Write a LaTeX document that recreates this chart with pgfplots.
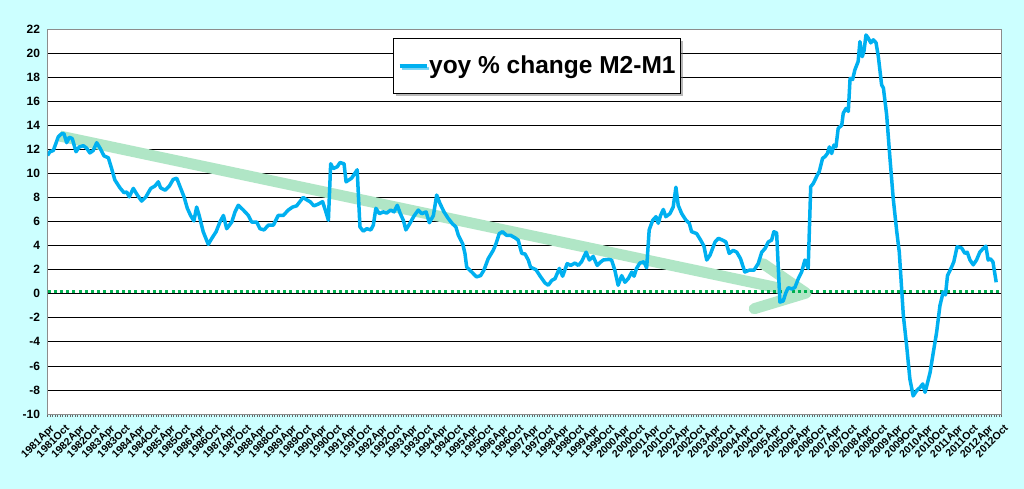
\documentclass[border=0pt]{standalone}
\usepackage{fontspec}
\setmainfont{Liberation Sans}
\usepackage{pgfplots}
\pgfplotsset{compat=1.18}
\usetikzlibrary{shadows}
\definecolor{bgcol}{RGB}{204,255,255}
\definecolor{linecol}{RGB}{0,176,240}
\definecolor{zerocol}{RGB}{0,176,80}
\definecolor{arrowcol}{RGB}{176,230,198}
\begin{document}
\begin{tikzpicture}
\useasboundingbox (0,0) rectangle (1024bp,489bp);
\fill[bgcol] (0,0) rectangle (1024bp,489bp);
\begin{axis}[
  at={(47.5bp,75bp)}, anchor=south west,
  scale only axis, width=954bp, height=385bp,
  xmin=0, xmax=378, ymin=-10, ymax=22,
  axis background/.style={fill=white},
  axis line style={draw=black!45, line width=0.8bp},
  ytick={-10,-8,...,22},
  ymajorgrids, grid style={black, line width=0.7bp},
  ytick style={draw=none},
  xtick={0,6,...,378},
  xticklabels={1981Apr,1981Oct,1982Apr,1982Oct,1983Apr,1983Oct,1984Apr,1984Oct,1985Apr,1985Oct,1986Apr,1986Oct,1987Apr,1987Oct,1988Apr,1988Oct,1989Apr,1989Oct,1990Apr,1990Oct,1991Apr,1991Oct,1992Apr,1992Oct,1993Apr,1993Oct,1994Apr,1994Oct,1995Apr,1995Oct,1996Apr,1996Oct,1997Apr,1997Oct,1998Apr,1998Oct,1999Apr,1999Oct,2000Apr,2000Oct,2001Apr,2001Oct,2002Apr,2002Oct,2003Apr,2003Oct,2004Apr,2004Oct,2005Apr,2005Oct,2006Apr,2006Oct,2007Apr,2007Oct,2008Apr,2008Oct,2009Apr,2009Oct,2010Apr,2010Oct,2011Apr,2011Oct,2012Apr,2012Oct},
  minor x tick num=5,
  xtick pos=lower, tick align=outside,
  major tick length=3bp, minor tick length=3bp,
  xtick style={draw=black!60, line width=0.6bp},
  minor x tick style={draw=black!60, line width=0.6bp},
  /pgf/number format/assume math mode=true,
  yticklabel style={font=\bfseries\fontsize{12bp}{14bp}\selectfont, xshift=-1bp},
  xticklabel style={font=\bfseries\fontsize{10.5bp}{12bp}\selectfont, yshift=-6bp, xshift=2bp, rotate=45, anchor=north east, inner sep=0.5bp},
  legend style={at={(0.362,0.977)}, anchor=north west, draw=black, fill=white, line width=0.6bp,
    font=\bfseries\fontsize{24.5bp}{28bp}\selectfont,
    inner xsep=4.5bp, inner ysep=15bp,
    nodes={inner xsep=0.5bp, inner ysep=3bp},
    drop shadow={shadow xshift=2.5bp, shadow yshift=-2.5bp, fill=black!55}},
  legend cell align=left,
  legend image code/.code={\draw[#1, line width=4bp] (0bp,0bp) -- (27bp,0bp); \path (0bp,9bp);},
]
% trend arrow
\draw[arrowcol, line width=11bp, line cap=butt] (axis cs:4.95,13.1) -- (axis cs:297,0.15);
\draw[arrowcol, line width=11bp, line cap=round, line join=round] (axis cs:283.5,2.5) -- (axis cs:300.5,0.05) -- (axis cs:280,-1.25);
% zero line
\addplot[zerocol, line width=3bp, dash pattern=on 3bp off 3.2bp, forget plot] coordinates {(0,0.15) (378,0.15)};
\addplot[linecol, line width=3.5bp, line join=round] coordinates {
(0,11.5) (1.0,11.8) (2.3,11.9) (4.3,13.05) (5.6,13.3) (6.5,13.3) (7.6,12.55) (8.6,13.0) (9.8,12.9) (11.3,11.8)
(12.6,12.2) (14.2,12.3) (15.5,12.1) (16.8,11.7) (18.1,11.9) (19.5,12.55) (20.8,12.1) (22.4,11.45) (24.1,11.3) (25.4,10.4)
(26.7,9.45) (28.7,8.8) (30.3,8.4) (31.4,8.45) (32.4,8.05) (34.0,8.75) (35.6,8.2) (37.3,7.7) (39.0,8.05) (40.9,8.75)
(42.6,8.95) (43.9,9.3) (44.8,8.8) (46.6,8.6) (48.3,8.95) (49.8,9.5) (51.2,9.6) (52.5,8.9) (54.1,8.05) (55.4,7.1)
(56.7,6.5) (58.0,6.05) (59.1,7.2) (60.1,6.5) (61.7,5.15) (63.7,4.1) (65.1,4.6) (66.8,5.15) (68.3,5.95) (69.7,6.5)
(71.0,5.4) (73.0,5.95) (74.3,6.8) (75.6,7.35) (77.6,6.95) (79.6,6.5) (80.9,5.95) (82.9,5.95) (84.2,5.4) (85.8,5.3)
(87.5,5.7) (89.5,5.7) (91.4,6.5) (93.4,6.5) (95.4,6.95) (97.1,7.2) (98.7,7.3) (100.0,7.65) (101.3,8.0) (102.7,7.8)
(104.0,7.65) (105.6,7.3) (107.3,7.45) (109.0,7.65) (110.3,6.8) (111.3,6.1) (112.2,10.8) (113.2,10.4) (114.8,10.55) (115.9,10.9)
(117.5,10.8) (118.3,9.3) (120.5,9.6) (122.7,10.3) (123.8,5.55) (125.1,5.2) (126.5,5.4) (128.1,5.3) (129.1,5.7) (130.1,7.1)
(131.5,6.65) (133.0,6.8) (134.4,6.7) (136.0,6.95) (137.3,6.8) (138.6,7.35) (139.7,6.7) (141.0,6.1) (142.0,5.3) (143.6,5.85)
(145.2,6.45) (146.9,6.95) (148.3,6.65) (150.0,6.8) (151.3,5.9) (152.9,6.5) (154.2,8.2) (155.5,7.5) (157.1,6.8) (158.8,6.25)
(160.5,5.8) (161.8,5.55) (162.8,4.85) (164.5,4.15) (165.4,3.35) (166.1,2.2) (168.1,1.8) (170.0,1.4) (171.6,1.5) (172.9,1.95)
(174.6,2.9) (176.6,3.6) (177.7,4.15) (179.0,5.0) (180.3,5.15) (181.9,4.85) (183.5,4.85) (185.2,4.65) (186.5,4.45) (187.9,3.35)
(189.2,3.3) (190.5,2.8) (191.4,2.2) (193.5,2.0) (195.4,1.4) (197.1,0.9) (198.4,0.7) (199.8,1.1) (201.1,1.25) (202.8,2.1)
(204.1,1.45) (205.9,2.5) (207.3,2.35) (209.0,2.55) (210.3,2.35) (211.6,2.65) (213.4,3.45) (214.7,2.8) (216.2,3.1) (217.8,2.35)
(219.0,2.6) (220.2,2.8) (222.2,2.85) (223.5,2.8) (224.8,1.95) (226.1,0.7) (227.5,1.5) (228.8,0.95) (230.1,1.25) (231.5,1.8)
(232.4,1.45) (233.4,2.1) (234.7,2.55) (236.3,2.65) (237.4,2.15) (238.4,5.3) (239.8,6.1) (241.1,6.4) (242.0,5.85) (242.9,6.5)
(244.0,7.0) (245.0,6.4) (246.6,6.65) (247.9,7.2) (249.0,8.85) (249.9,7.35) (251.3,6.65) (253.0,6.1) (254.3,5.85) (255.2,5.15)
(257.2,5.0) (258.8,4.45) (260.1,3.95) (261.2,2.8) (262.5,3.2) (264.5,4.3) (265.8,4.6) (267.5,4.45) (268.8,4.3) (270.1,3.35)
(271.7,3.6) (273.1,3.45) (274.6,2.9) (276.3,1.8) (278.0,1.95) (279.9,1.95) (281.6,2.5) (283.0,3.45) (284.3,3.75) (285.6,4.3)
(286.9,4.45) (287.8,5.15) (288.9,5.05) (290.2,-0.7) (291.5,-0.6) (292.6,0.1) (293.5,0.5) (294.8,0.4) (296.1,0.5) (297.5,1.25)
(298.8,1.8) (300.1,2.8) (301.4,2.1) (302.4,8.9) (303.4,9.15) (305.0,9.85) (305.8,10.15) (307.1,11.25) (308.1,11.4) (309.0,11.65)
(309.8,12.2) (310.7,11.65) (311.6,12.35) (312.4,12.2) (313.3,13.75) (314.7,14.0) (315.3,15.0) (316.4,15.4) (317.3,15.15) (318.0,17.9)
(319.0,17.8) (319.9,18.6) (321.2,19.3) (321.9,20.95) (322.8,19.7) (323.5,20.15) (324.3,21.5) (325.2,21.25) (326.2,20.85) (327.2,21.1)
(328.3,20.85) (329.2,19.7) (330.5,17.35) (331.2,17.1) (332.5,14.85) (333.8,11.25) (335.1,7.9) (336.5,5.15) (337.5,3.45) (339.1,-1.8)
(340.4,-4.3) (341.7,-7.1) (343.0,-8.5) (344.4,-8.05) (345.7,-7.8) (346.8,-7.5) (347.7,-8.2) (348.4,-7.65) (349.7,-6.55) (351.0,-4.85)
(352.3,-3.2) (353.6,-1.0) (354.9,0.15) (355.8,-0.1) (356.6,1.5) (358.2,2.2) (359.1,2.65) (360.4,3.9) (362.2,3.8) (363.5,3.35)
(364.4,3.45) (365.5,2.8) (366.8,2.4) (368.1,2.8) (369.4,3.45) (370.7,3.75) (371.8,3.95) (372.7,2.8) (373.6,2.9) (374.6,2.65)
(375.9,0.95)
};
\addlegendentry{yoy \% change M2-M1}
\end{axis}
\end{tikzpicture}
\end{document}
